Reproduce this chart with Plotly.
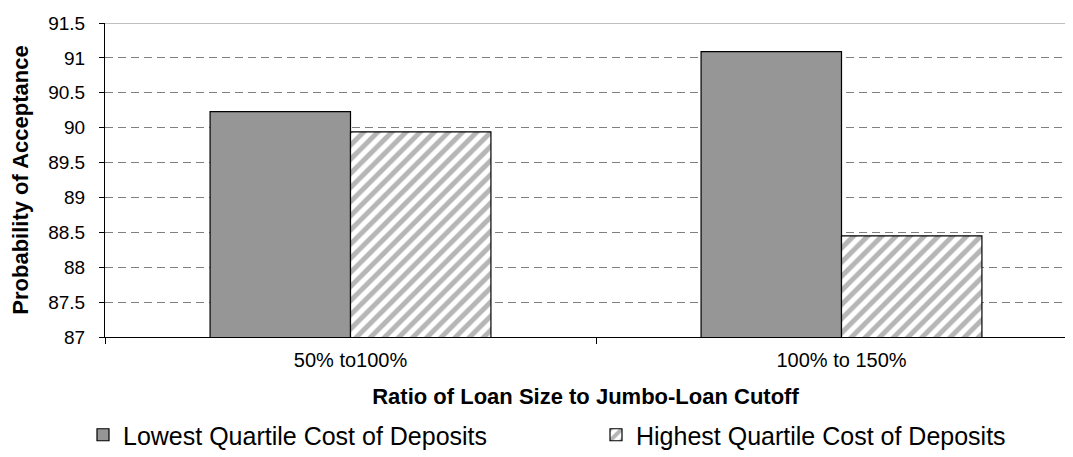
import plotly.graph_objects as go

categories = ["50% to100%", "100% to 150%"]
lowest = [90.23, 91.09]
highest = [89.94, 88.45]
series_names = ["Lowest Quartile Cost of Deposits", "Highest Quartile Cost of Deposits"]
y_ticks = [87, 87.5, 88, 88.5, 89, 89.5, 90, 90.5, 91, 91.5]

FONT = "Liberation Sans, Arial, sans-serif"

W, H = 1073, 457
ML, MR, MT, MB = 97, 15, 15, 128
plot_w = W - ML - MR
plot_h = H - MT - MB
cat_px = 491.0

fig = go.Figure()
fig.add_trace(go.Bar(
    x=categories, y=lowest, name=series_names[0], legend="legend",
    marker=dict(color="#969696", line=dict(color="#000000", width=1.2)),
))
fig.add_trace(go.Bar(
    x=categories, y=highest, name=series_names[1], legend="legend2",
    marker=dict(color="#ffffff", line=dict(color="#000000", width=1.2),
                pattern=dict(shape="/", fgcolor="#6e6e6e", bgcolor="#ffffff",
                             size=10, solidity=0.5)),
))

def px_to_paper_x(px):
    return (px - ML) / plot_w

def px_to_paper_y(py):
    return (H - MB - py) / plot_h

fig.update_layout(
    width=W, height=H,
    margin=dict(l=ML, r=MR, t=MT, b=MB, autoexpand=False),
    paper_bgcolor="white", plot_bgcolor="white",
    barmode="group", bargap=0.428, bargroupgap=0,
    font=dict(family=FONT, color="#000000", size=18),
    showlegend=True,
    legend=dict(x=px_to_paper_x(75), xanchor="left", y=px_to_paper_y(427), yanchor="middle",
                font=dict(size=25, family=FONT), bgcolor="rgba(0,0,0,0)"),
    legend2=dict(x=px_to_paper_x(588), xanchor="left", y=px_to_paper_y(427), yanchor="middle",
                 font=dict(size=25, family=FONT), bgcolor="rgba(0,0,0,0)"),
    xaxis=dict(
        type="category", range=[-0.5, -0.5 + plot_w / cat_px],
        showline=True, linecolor="#000000", linewidth=1,
        ticks="outside", tickson="boundaries", ticklen=6, tickcolor="#000000",
        ticklabelstandoff=5,
        showgrid=False, tickfont=dict(size=20, family=FONT),
        title=dict(text="<b>Ratio of Loan Size to Jumbo-Loan Cutoff</b>",
                   font=dict(size=22, family=FONT), standoff=18),
    ),
    yaxis=dict(
        range=[87, 91.5], tickvals=y_ticks, ticktext=[f"{v:g}" for v in y_ticks],
        showline=True, linecolor="#000000", linewidth=1,
        ticks="outside", ticklen=5, tickcolor="#000000",
        ticklabelstandoff=10,
        showgrid=True, gridcolor="#808080", griddash="8px,5px", gridwidth=1,
        zeroline=False, tickfont=dict(size=19, family=FONT),
        title=dict(text="<b>Probability of Acceptance</b>",
                   font=dict(size=22, family=FONT), standoff=14),
    ),
)
fig.add_shape(type="line", xref="paper", yref="y", x0=0, x1=1, y0=91.5, y1=91.5,
              line=dict(color="#808080", width=1), layer="below")

fig.write_html("out.html")
